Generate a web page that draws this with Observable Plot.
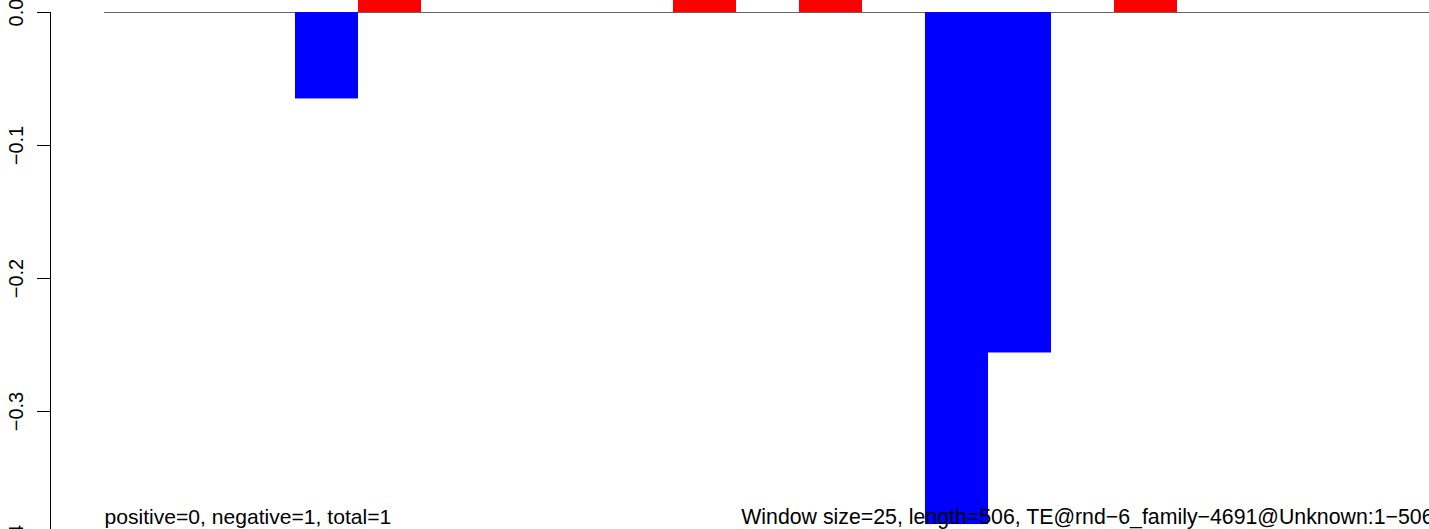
<!DOCTYPE html>
<html><head><meta charset="utf-8">
<script src="https://cdn.jsdelivr.net/npm/d3@7"></script>
<script src="https://cdn.jsdelivr.net/npm/@observablehq/plot@0.6"></script>
<style>html,body{margin:0;padding:0;background:#fff;overflow:hidden}</style>
</head><body><div id="chart"></div>
<script>
// Window index (window size 25 over length 506)
const windows = [1,2,3,4,5,6,7,8,9,10,11,12,13,14,15,16,17,18,19,20,21];
// positive (red) scores per window; tall ones are cut off at the top of the picture
const positive = [0,0,0,0,0.05,0,0,0,0,0.05,0,0.05,0,0,0,0,0.05,0,0,0,0];
// negative (blue) scores per window
const negative = [0,0,0,-0.065,0,0,0,0,0,0,0,0,0,-0.385,-0.256,0,0,0,0,0,0];
const yTicks = [0, -0.1, -0.2, -0.3, -0.4];
const leftNote = "positive=0, negative=1, total=1";
const rightNote = "Window size=25, length=506, TE@rnd\u22126_family\u22124691@Unknown:1\u2212506";

const posRows = windows.map((w, i) => ({w, v: positive[i]})).filter(d => d.v !== 0);
const negRows = windows.map((w, i) => ({w, v: negative[i]})).filter(d => d.v !== 0);

const chart = Plot.plot({
  width: 1429,
  height: 529,
  marginTop: 12,
  marginBottom: -15,
  marginLeft: 104,
  marginRight: -2,
  style: {fontFamily: "'Liberation Sans', Arial, Helvetica, sans-serif", fontSize: "20px", color: "#000", background: "#fff"},
  x: {type: "band", domain: windows, padding: 0, axis: null},
  y: {domain: [-0.4, 0], axis: null},
  marks: [
    Plot.ruleY([0], {stroke: "#666", strokeWidth: 1}),
    Plot.barY(posRows, {x: "w", y: "v", fill: "#FF0000"}),
    Plot.barY(negRows, {x: "w", y: "v", fill: "#0000FF"}),
    Plot.frame({anchor: "left", dx: -54, stroke: "#000"}),
    Plot.axisY({ticks: yTicks, tickSize: 13, tickPadding: 14.5, tickRotate: -90, tickFormat: d3.format(".1f"), dx: -54, fontSize: 20, label: null, stroke: "#000"}),
    Plot.text([leftNote], {text: d => d, frameAnchor: "bottom-left", textAnchor: "start", lineAnchor: "bottom", dy: -21, fontSize: 21.1}),
    Plot.text([rightNote], {text: d => d, frameAnchor: "bottom-right", textAnchor: "end", lineAnchor: "bottom", dy: -21, dx: 2, fontSize: 21.3})
  ]
});
document.getElementById("chart").appendChild(chart);
</script>
</body></html>
